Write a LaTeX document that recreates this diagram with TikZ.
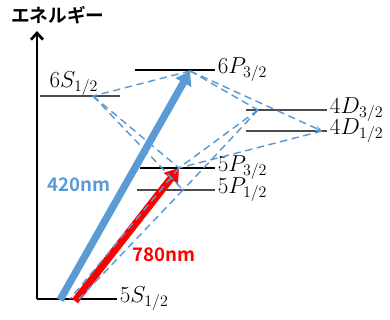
\documentclass[tikz,border=0pt]{standalone}
\usepackage{fontspec}
\newfontfamily\jpfont{Noto Sans CJK JP Bold}
\usetikzlibrary{arrows.meta,positioning}
\definecolor{rbblue}{RGB}{91,155,213}
\definecolor{rbred}{RGB}{255,0,0}

\begin{document}
\begin{tikzpicture}[
    x=0.75pt, y=-0.75pt,
    level/.style={line width=2pt, black},
    sublevel/.style={line width=1pt, black!70},
    lvlabel/.style={inner sep=1pt, font=\fontsize{18}{21}\selectfont},
    decay/.style={rbblue, line width=1.1pt, dash pattern=on 5.5pt off 3.5pt},
    laser/.style={line width=5.5pt, -{Triangle[length=10pt,width=13pt]}},
    wavelabel/.style={font=\jpfont\fontsize{14}{16}\selectfont}
]
\useasboundingbox (0,0) rectangle (390,320);

% energy axis
\coordinate (origin) at (37,299);
\coordinate (axistop) at (37,31);
\draw[line width=2pt, -{Straight Barb[length=5pt,width=9pt]}] (origin) -- (axistop);
\node[wavelabel] (axislabel) at (58,15) {エネルギー};

% levels
\draw[level] (origin) -- (117,299) coordinate (s5r);
\draw[sublevel] (137,190) -- (215,190) coordinate (p5r1);
\draw[level] (140,168) -- (215,168) coordinate (p5r3);
\draw[sublevel] (40,96) coordinate (s6l) -- (120,96);
\draw[level] (135,70) -- (215,70) coordinate (p6r);
\draw[sublevel] (246,110) -- (327,110) coordinate (d4r3);
\draw[sublevel] (246,131) -- (327,131) coordinate (d4r1);

\node[lvlabel, right=1pt of s5r] (l5s) {$5S_{1/2}$};
\node[lvlabel, right=1pt of p5r1] (l5p1) {$5P_{1/2}$};
\node[lvlabel, right=1pt of p5r3] (l5p3) {$5P_{3/2}$};
\node[lvlabel, anchor=south west, xshift=6pt, yshift=-1pt] (l6s) at (s6l) {$6S_{1/2}$};
\node[lvlabel, right=1pt of p6r] (l6p) {$6P_{3/2}$};
\node[lvlabel, right=1pt of d4r3] (l4d3) {$4D_{3/2}$};
\node[lvlabel, right=1pt of d4r1] (l4d1) {$4D_{1/2}$};

% points where the transitions meet the levels
\coordinate (g5a) at (70,299);
\coordinate (g5b) at (79,299);
\coordinate (e5p1) at (183,190);
\coordinate (e5p3) at (179,168);
\coordinate (e6s) at (93,96);
\coordinate (e6p) at (190,71);
\coordinate (e4d3) at (258,110);
\coordinate (e4d1) at (322,131);

% excitation
\draw[laser, rbblue] (60,300) coordinate (bluetail) -- (e6p);
\draw[laser, rbred] (75,301) coordinate (redtail) -- (e5p3);
\node[wavelabel, rbblue] (blue420) at (79,185) {420nm};
\node[wavelabel, rbred] (red780) at (164,255) {780nm};

% decay paths
\draw[decay] (e6p) -- (e6s);
\draw[decay] (e6p) -- (e4d3);
\draw[decay, -{Stealth[length=5pt,width=4pt]}] (e6p) -- (e4d1);
\draw[decay] (e6s) -- (e5p3);
\draw[decay] (e6s) -- (e5p1);
\draw[decay] (e4d3) -- (e5p3);
\draw[decay] (e4d3) -- (e5p1);
\draw[decay] (e4d1) -- (e5p3);
\draw[decay] (e5p3) -- (g5a);
\draw[decay] (e5p1) -- (g5b);
\end{tikzpicture}
\end{document}
